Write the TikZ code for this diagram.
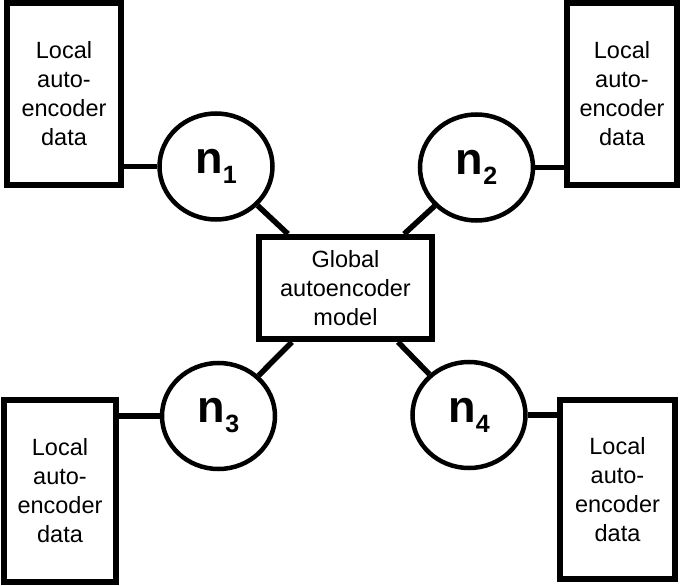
\documentclass[tikz,border=0pt]{standalone}
\usepackage{fontspec}
\setmainfont{Liberation Sans}
\usetikzlibrary{shapes.geometric}
\begin{document}
\begin{tikzpicture}[x=1pt,y=-1pt,
  localbox/.style={draw, line width=6pt, rectangle, align=center, inner sep=0pt,
    font=\fontsize{23.5}{29}\selectfont},
  globalbox/.style={draw, line width=6pt, rectangle, align=center, inner sep=0pt,
    minimum width=173pt, minimum height=102pt, font=\fontsize{23.5}{29}\selectfont},
  nodecirc/.style={draw, line width=4.5pt, ellipse, inner sep=0pt,
    minimum width=113pt, minimum height=106pt, font=\fontsize{45}{45}\selectfont\bfseries},
  conn/.style={line width=5.5pt}]
\useasboundingbox (0,0) rectangle (689,586);
\newcommand{\nlab}[1]{n\raisebox{-10pt}{\fontsize{25}{25}\selectfont\bfseries #1}}
% local data boxes
\node[localbox, minimum width=114pt, minimum height=182pt] (tl) at (64,94) {Local\\auto-\\encoder\\data};
\node[localbox, minimum width=110pt, minimum height=182pt] (tr) at (622,94) {Local\\auto-\\encoder\\data};
\node[localbox, minimum width=112pt, minimum height=182pt] (bl) at (60,491) {Local\\auto-\\encoder\\data};
\node[localbox, minimum width=115pt, minimum height=179pt] (br) at (617.5,489.5) {Local\\auto-\\encoder\\data};
% global model
\node[globalbox] (g) at (345.5,288) {Global\\autoencoder\\model};
% client nodes
\node[nodecirc] (n1) at (216,166.5) {\nlab{1}};
\node[nodecirc] (n2) at (476.5,167.5) {\nlab{2}};
\node[nodecirc] (n3) at (218.5,416) {\nlab{3}};
\node[nodecirc] (n4) at (469,415) {\nlab{4}};
% connectors
\draw[conn] (n1.west) -- (n1.west -| tl.east);
\draw[conn] (n2.east) -- (n2.east -| tr.west);
\draw[conn] (n3.west) -- (n3.west -| bl.east);
\draw[conn] (n4.east) -- (n4.east -| br.west);
\draw[conn] (n1) -- (g);
\draw[conn] (n2) -- (g);
\draw[conn] (n3) -- (g);
\draw[conn] (n4) -- (g);
\end{tikzpicture}
\end{document}
